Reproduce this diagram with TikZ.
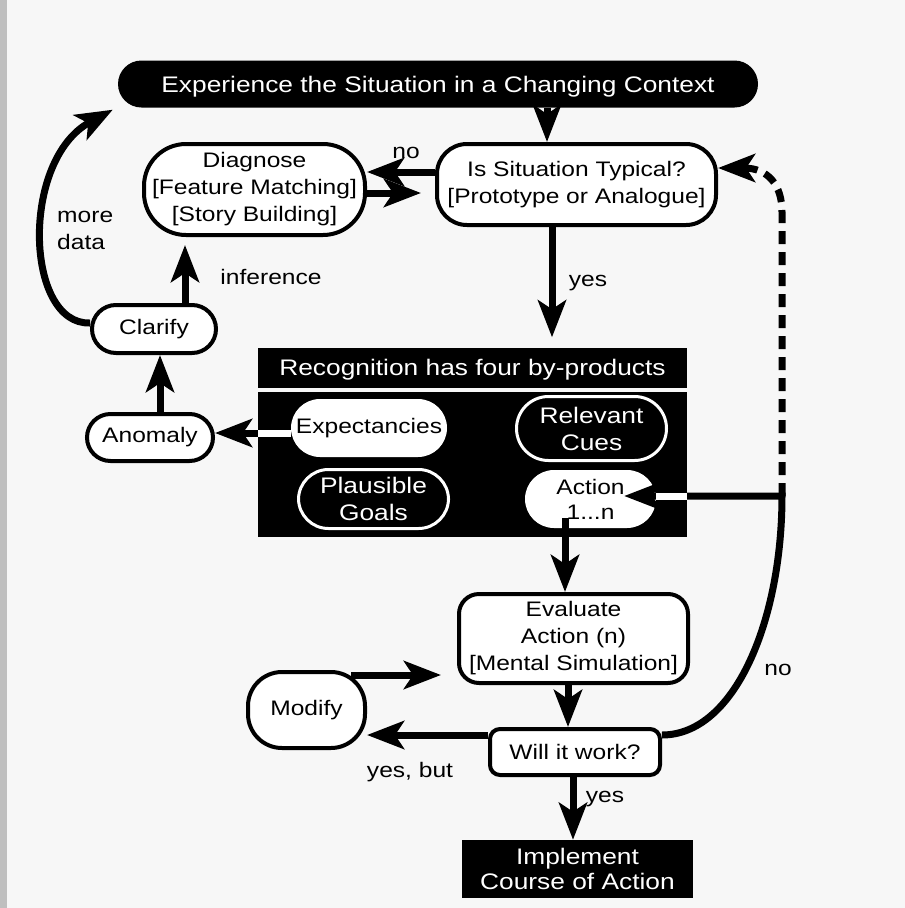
\documentclass[tikz,border=0pt]{standalone}
\usepackage{fontspec}
\setmainfont{Liberation Sans}[FakeStretch=1.17]
\usetikzlibrary{arrows.meta}

\begin{document}
\begin{tikzpicture}[x=1pt, y=-1pt,
    >={Stealth[length=37pt, width=28pt, inset=9pt]},
    every node/.style={font=\fontsize{21}{27}\selectfont, align=center, inner sep=0pt},
    rbox/.style={draw, line width=4pt, fill=white, rounded corners=#1},
    rbox/.default=20pt,
    dark/.style={fill=black, text=white, font=\fontsize{22.5}{26}\selectfont},
    pill/.style={draw=white, line width=3pt, fill=black, text=white, rounded corners=#1,
        font=\fontsize{22.5}{27}\selectfont},
    flow/.style={->, line width=7pt}]

    % page
    \useasboundingbox (0,0) rectangle (905,908);
    \fill[gray!6] (0,0) rectangle (905,908);
    \fill[gray!50] (0,0) rectangle (7,908);

    % Situation and typicality
    \node[dark, text depth=0pt, rounded corners=23.5pt, minimum width=640pt, minimum height=47pt] (ctx)
        at (438,84) {Experience the Situation in a Changing Context};
    \node[rbox=42pt, minimum width=221pt, minimum height=91pt] (diag) at (254.5,189.5)
        {Diagnose\\{[Feature Matching]}\\{[Story Building]}};
    \node[rbox=30pt, minimum width=279pt, minimum height=81pt] (typ) at (576.5,184.5)
        {Is Situation Typical?\\{[Prototype or Analogue]}};
    \node[rbox=24pt, minimum width=124pt, minimum height=48pt] (clar) at (154,329) {Clarify};
    \node[rbox=23.5pt, minimum width=126pt, minimum height=47pt] (anom) at (150,437.5) {Anomaly};

    % Recognition has four by-products
    \node[dark, text depth=0pt, minimum width=429pt, minimum height=40pt] (recog) at (472.5,367.5)
        {Recognition has four by-products};
    \node[fill=black, minimum width=429pt, minimum height=145pt] (body) at (472.5,464.5) {};
    \node[fill=white, rounded corners=29pt, minimum width=156pt, minimum height=58pt] (expect) at (369,428)
        {Expectancies};
    \node[pill=32pt, minimum width=150pt, minimum height=64pt] (relev) at (591.5,428.5) {Relevant\\Cues};
    \node[pill=30pt, minimum width=150pt, minimum height=59pt] (plaus) at (373.5,499) {Plausible\\Goals};
    \node[fill=white, rounded corners=29pt, minimum width=131pt, minimum height=58pt,
        font=\fontsize{21}{25}\selectfont] (action) at (590.5,499) {Action\\1...n};

    % Evaluation
    \node[rbox=20pt, minimum width=229pt, minimum height=89pt] (evalb) at (573.5,638.5)
        {Evaluate\\Action (n)\\{[Mental Simulation]}};
    \node[rbox=34pt, minimum width=117pt, minimum height=76pt] (modif) at (306.5,710) {Modify};
    \node[rbox=10pt, minimum width=170pt, minimum height=46pt] (will) at (575,752) {Will it work?};
    \node[dark, font=\fontsize{22.5}{25}\selectfont, minimum width=231pt, minimum height=58pt] (impl)
        at (577.5,869) {Implement\\Course of Action};

    % Labels
    \node (no1) at (406,153) {no};
    \node[anchor=west, align=left] (more) at (57,230) {more\\data};
    \node (infer) at (271,277) {inference};
    \node (yes1) at (588,283) {yes};
    \node (yesbut) at (410,772) {yes, but};
    \node (yes2) at (605,799) {yes};
    \node (no2) at (778,670) {no};

    % Connections
    \draw[flow] ([xshift=-29.5pt]typ.north |- ctx.south) -- ([xshift=-29.5pt]typ.north);
    \draw[flow] ([yshift=12.5pt]typ.west) -- ([yshift=17.5pt]diag.east);
    \draw[flow, shorten >=14pt] ([yshift=-3.5pt]diag.east) -- ([yshift=-8.5pt]typ.west);
    \draw[flow, shorten >=8pt] ([xshift=31pt]clar.north) -- ([xshift=31pt]clar.north |- diag.south);
    \draw[flow] ([yshift=6pt]clar.west) .. controls (25,325) and (20,160) .. ([shift={(-5pt,-2pt)}]ctx.south west);
    \draw[flow] ([xshift=10pt]anom.north) -- ([xshift=10pt]anom.north |- clar.south);
    \draw[flow] ([yshift=-5pt]expect.west) -- ([yshift=-5pt]expect.west -| anom.east);
    \draw[white, line width=7pt] ([yshift=-5pt]expect.west) -- ([yshift=-5pt]expect.west -| body.west);
    \draw[flow, shorten >=10pt] ([xshift=-24.5pt]typ.south) -- ([xshift=-24.5pt]typ.south |- recog.north);
    \draw[flow] ([shift={(-25.5pt,10pt)}]action.south) -- ([xshift=-25.5pt]action.south |- evalb.north);
    \draw[flow] ([xshift=-5.5pt]evalb.south) -- ([xshift=-5.5pt]evalb.south |- will.north);
    \draw[flow] ([shift={(-16pt,35pt)}]modif.east) -- ([shift={(-16pt,35pt)}]modif.east -| evalb.west);
    \draw[flow] ([yshift=17pt]will.west) -- ([yshift=17pt]will.west -| modif.east);
    \draw[flow] ([xshift=-2pt]will.south) -- ([xshift=-2pt]will.south |- impl.north);

    % no: back to the action and to the situation
    \coordinate (jn) at (782,496);
    \draw[flow] ([yshift=17pt]will.east) .. controls (735,735) and (782,620) .. (jn)
        -- ([shift={(-32pt,3pt)}]action.east);
    \draw[white, line width=7pt] (jn -| body.east) -- ([yshift=3pt]action.east);
    \draw[flow, dash pattern=on 13pt off 8pt] (jn) -- (782,212) .. controls (782,185) and (768,168)
        .. ([yshift=16.5pt]typ.east);
\end{tikzpicture}
\end{document}
